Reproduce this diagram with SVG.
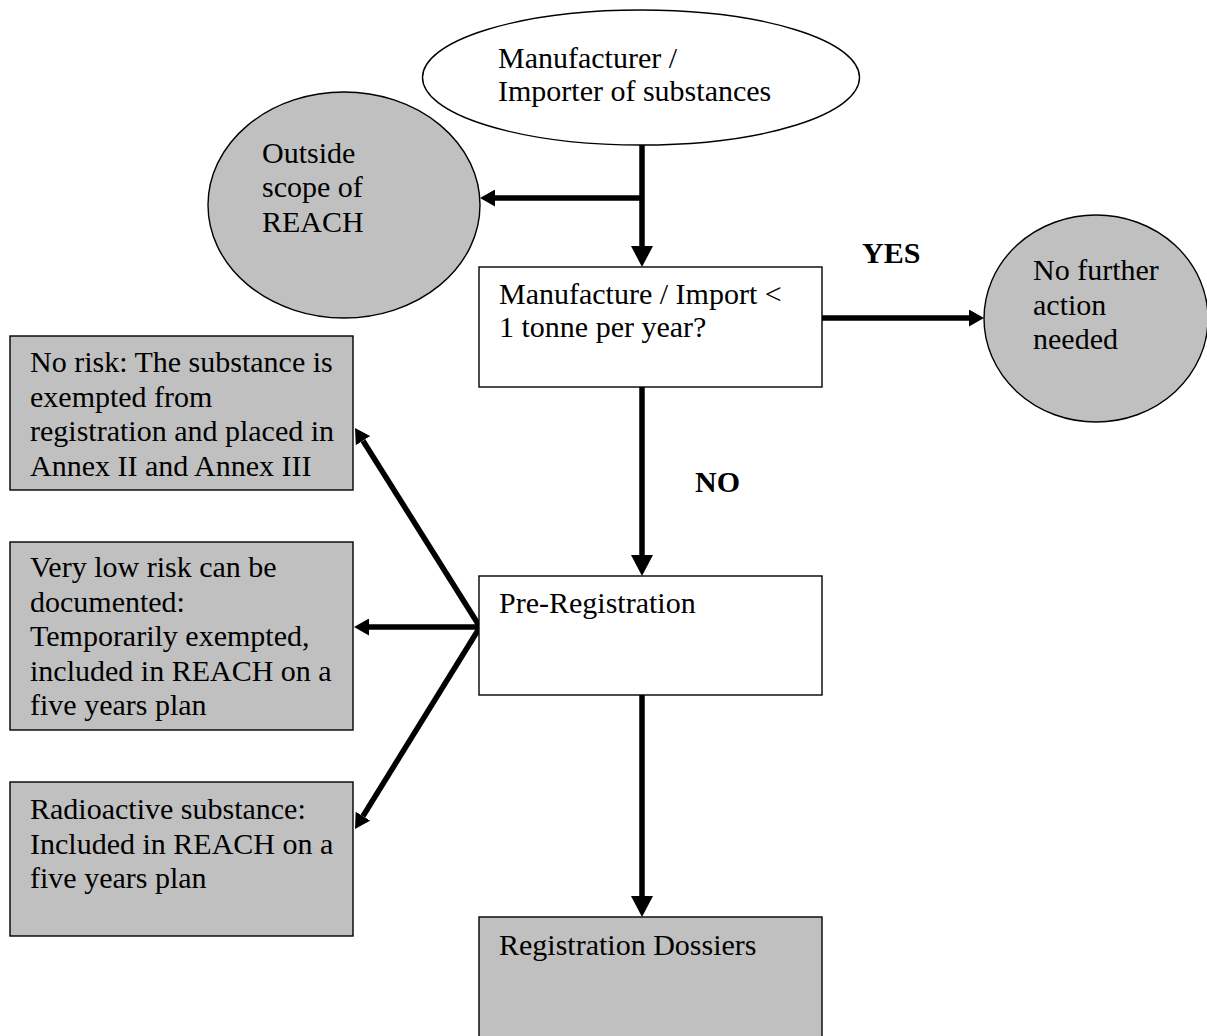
<svg xmlns="http://www.w3.org/2000/svg" width="1207" height="1036" viewBox="0 0 1207 1036">
<style>
  .t { font-family: "Liberation Serif", "Times New Roman", serif; font-size: 30px; fill: #000; }
  .b { font-family: "Liberation Serif", "Times New Roman", serif; font-size: 30px; font-weight: bold; fill: #000; }
  .w { fill: #ffffff; stroke: #000; stroke-width: 1.4; }
  .g { fill: #c0c0c0; stroke: #000; stroke-width: 1.4; }
  .c { stroke: #000; stroke-width: 5.5; fill: none; }
</style>
<defs>
  <marker id="big" markerUnits="userSpaceOnUse" markerWidth="21" markerHeight="22" viewBox="0 0 21 22" refX="0" refY="11" orient="auto">
    <path d="M0,0 L21,11 L0,22 z" fill="#000"/>
  </marker>
  <marker id="small" markerUnits="userSpaceOnUse" markerWidth="15" markerHeight="17" viewBox="0 0 15 17" refX="0" refY="8.5" orient="auto">
    <path d="M0,0 L15,8.5 L0,17 z" fill="#000"/>
  </marker>
</defs>
<rect width="1207" height="1036" fill="#ffffff"/>

<g id="connectors">
  <line class="c" x1="642" y1="145" x2="642" y2="246" marker-end="url(#big)"/>
  <line class="c" x1="642" y1="198" x2="495" y2="198" marker-end="url(#small)"/>
  <line class="c" x1="822" y1="318" x2="969" y2="318" marker-end="url(#small)"/>
  <line class="c" x1="642" y1="387" x2="642" y2="555" marker-end="url(#big)"/>
  <line class="c" x1="642" y1="695" x2="642" y2="896" marker-end="url(#big)"/>
  <line class="c" x1="480" y1="627" x2="363" y2="440.7" marker-end="url(#small)"/>
  <line class="c" x1="480" y1="627" x2="369" y2="627" marker-end="url(#small)"/>
  <line class="c" x1="480" y1="627" x2="362.9" y2="816.2" marker-end="url(#small)"/>
  <text class="b" x="862" y="263">YES</text>
  <text class="b" x="695" y="492">NO</text>
</g>

<g id="manufacturer">
  <ellipse class="w" cx="641" cy="77.5" rx="218.5" ry="67.5"/>
  <text class="t" x="498" y="68">Manufacturer /</text>
  <text class="t" x="498" y="101">Importer of substances</text>
</g>

<g id="outside-scope">
  <ellipse class="g" cx="344" cy="205" rx="136" ry="113"/>
  <text class="t" x="262" y="163">Outside</text>
  <text class="t" x="262" y="197">scope of</text>
  <text class="t" x="262" y="232">REACH</text>
</g>

<g id="tonnage-check">
  <rect class="w" x="479" y="267" width="343" height="120"/>
  <text class="t" x="499" y="304">Manufacture / Import &lt;</text>
  <text class="t" x="499" y="337">1 tonne per year?</text>
</g>

<g id="no-further-action">
  <ellipse class="g" cx="1096" cy="318.5" rx="112" ry="103.5"/>
  <text class="t" x="1033" y="280">No further</text>
  <text class="t" x="1033" y="315">action</text>
  <text class="t" x="1033" y="349">needed</text>
</g>

<g id="no-risk">
  <rect class="g" x="10" y="336" width="343" height="154"/>
  <text class="t" x="30" y="372">No risk: The substance is</text>
  <text class="t" x="30" y="406.5">exempted from</text>
  <text class="t" x="30" y="441">registration and placed in</text>
  <text class="t" x="30" y="475.5">Annex II and Annex III</text>
</g>

<g id="very-low-risk">
  <rect class="g" x="10" y="542" width="343" height="188"/>
  <text class="t" x="30" y="577">Very low risk can be</text>
  <text class="t" x="30" y="611.5">documented:</text>
  <text class="t" x="30" y="646">Temporarily exempted,</text>
  <text class="t" x="30" y="680.5">included in REACH on a</text>
  <text class="t" x="30" y="715">five years plan</text>
</g>

<g id="radioactive">
  <rect class="g" x="10" y="782" width="343" height="154"/>
  <text class="t" x="30" y="819">Radioactive substance:</text>
  <text class="t" x="30" y="853.5">Included in REACH on a</text>
  <text class="t" x="30" y="888">five years plan</text>
</g>

<g id="pre-registration">
  <rect class="w" x="479" y="576" width="343" height="119"/>
  <text class="t" x="499" y="613">Pre-Registration</text>
</g>

<g id="registration-dossiers">
  <rect class="g" x="479" y="917" width="343" height="125"/>
  <text class="t" x="499" y="955">Registration Dossiers</text>
</g>
</svg>
